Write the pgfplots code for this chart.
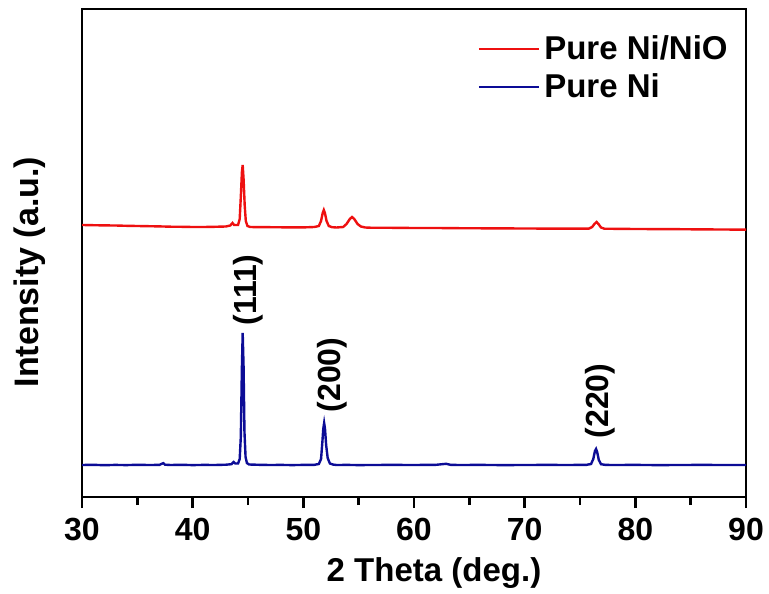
\documentclass[border=0pt]{standalone}
\usepackage{fontspec}
\setmainfont{Liberation Sans}
\usepackage{pgfplots}
\pgfplotsset{compat=1.18}
\usetikzlibrary{calc}
\definecolor{xrdred}{RGB}{238,16,16}
\definecolor{xrdblue}{RGB}{12,12,150}

\begin{document}
\begin{tikzpicture}
\begin{axis}[
  scale only axis,
  width=332pt, height=244pt,
  xmin=30, xmax=90,
  ymin=0, ymax=488,
  xtick={30,40,50,60,70,80,90},
  minor x tick num=1,
  ytick=\empty,
  xtick pos=bottom,
  tick align=outside,
  major tick length=5.5pt,
  minor tick length=4pt,
  axis line style={line width=1.4pt},
  every tick/.style={line width=1.4pt, black},
  /pgf/number format/assume math mode=true,
  tick label style={font=\fontsize{16}{19}\selectfont\bfseries},
  xticklabel style={yshift=-1.5pt},
  xlabel={2 Theta (deg.)},
  ylabel={Intensity (a.u.)},
  every axis x label/.style={at={(axis description cs:0.5,0)}, anchor=center, yshift=-38pt, xshift=10pt, font=\fontsize{16.5}{19}\selectfont\bfseries},
  every axis y label/.style={at={(axis description cs:-0.0783,0.461)}, anchor=center, rotate=90, font=\fontsize{17}{20}\selectfont\bfseries},
  legend style={at={(rel axis cs:0.595,0.879)}, anchor=west, draw=none, fill=none,
    font=\fontsize{16.5}{19}\selectfont\bfseries, row sep=1.5pt, inner sep=0pt},
  legend cell align=left,
  legend image code/.code={\draw[#1, line width=1.4pt] (0pt,0pt) -- (30pt,0pt);},
]
% Pure Ni/NiO
\addplot[xrdred, line width=1.2pt] coordinates {
  (30,272)(31,271.8)(32,271.6)(33,271.5)(34,271.2)(35,271)(36,270.8)(37,270.6)
  (38,270.3)(39,270.2)(40,270)(41,270)(42,270.2)(43,270.5)(43.4,271.5)(43.6,274)
  (43.75,272)(44.1,272)(44.25,278)(44.35,300)(44.45,325)(44.52,332)(44.6,318)
  (44.7,292)(44.8,276)(44.95,271)(45.2,270)(46,269.8)(47,269.8)(48,269.7)(49,269.6)
  (50,269.6)(51,270)(51.4,271)(51.6,276)(51.75,284)(51.85,287)(51.95,284)(52.1,276)
  (52.3,271)(52.6,269.8)(53,269.5)(53.6,270)(53.9,273)(54.2,278)(54.4,280)(54.6,278)
  (54.9,273)(55.2,270.5)(55.6,269.5)(56,269.3)(58,269.2)(60,269)(62,269)(64,268.8)
  (66,268.7)(68,268.6)(70,268.5)(72,268.4)(74,268.3)(75.8,268.4)(76.1,270)(76.3,273)
  (76.5,275)(76.7,272.5)(76.9,269.5)(77.2,268.3)(78,268.2)(80,268)(82,267.9)(84,267.8)
  (86,267.6)(88,267.5)(90,267.3)};
\addlegendentry{Pure Ni/NiO}
% Pure Ni
\addplot[xrdblue, line width=1.2pt] coordinates {
  (30,32)(31,32.2)(32,31.8)(33,32.1)(34,31.9)(35,32.2)(36,32)(37,32.1)(37.2,33.2)
  (37.35,33.8)(37.5,32.3)(38,32)(39,32.2)(40,31.9)(41,32.1)(42,32)(43,32.3)(43.5,32.8)
  (43.7,35)(43.85,33.5)(44.1,33.5)(44.25,38)(44.35,60)(44.45,130)(44.52,164)(44.6,130)
  (44.68,65)(44.78,40)(44.9,34)(45.1,32.5)(46,32.2)(47,32)(48,32.1)(49,31.9)(50,32.1)
  (51,32.2)(51.4,33)(51.6,38)(51.72,55)(51.8,68)(51.88,74)(51.96,68)(52.06,52)(52.2,39)
  (52.4,33.5)(52.7,32.4)(53,32)(54,32.1)(55,31.9)(56,32)(58,32.1)(60,32)(62,32.2)
  (62.9,33.2)(63.3,32.2)(64,32)(66,32.1)(68,31.9)(70,32)(72,32.1)(74,32)(75.6,32.2)
  (76,33)(76.2,38)(76.35,46)(76.45,48)(76.55,45)(76.7,37)(76.9,32.8)(77.3,32.1)
  (78,32)(80,32.1)(82,31.9)(84,32)(86,32.1)(88,32)(90,32)};
\addlegendentry{Pure Ni}
\node[rotate=90, font=\fontsize{16}{19}\selectfont\bfseries] at (axis cs:45.0,207) {(111)};
\node[rotate=90, font=\fontsize{16}{19}\selectfont\bfseries] at (axis cs:52.58,122) {(200)};
\node[rotate=90, font=\fontsize{16}{19}\selectfont\bfseries] at (axis cs:76.8,96) {(220)};
\end{axis}
\pgfresetboundingbox
\path[use as bounding box] ($(current axis.south west)+(-41pt,-48pt)$) rectangle ($(current axis.north east)+(11.5pt,4.5pt)$);
\end{tikzpicture}
\end{document}
